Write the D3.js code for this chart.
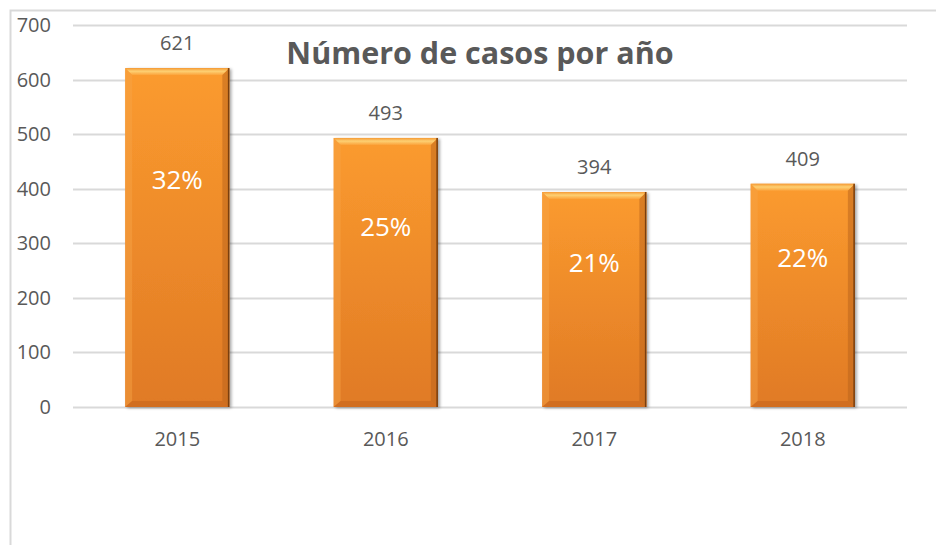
<!DOCTYPE html>
<html>
<head>
<meta charset="utf-8">
<script src="https://cdn.jsdelivr.net/npm/d3@7"></script>
<style>
  body { margin: 0; background: #fff; }
  svg { display: block; font-family: "Open Sans", "Liberation Sans", sans-serif; }
</style>
</head>
<body>
<svg id="chart" width="936" height="545"></svg>
<script>
// datos
const years = ['2015', '2016', '2017', '2018'];
const cases = [621, 493, 394, 409];
const percents = ['32%', '25%', '21%', '22%'];
const yTicks = [0, 100, 200, 300, 400, 500, 600, 700];
const title = 'Número de casos por año';

const svg = d3.select('#chart');
const textColor = '#595959';
const gridColor = '#d9d9d9';

// marco del gráfico
svg.append('path')
    .attr('d', 'M10.5,560 L10.5,10.5 L960,10.5')
    .attr('fill', 'none')
    .attr('stroke', gridColor)
    .attr('stroke-width', 2);

const x = d3.scaleBand().domain(years).range([73, 907]).paddingInner(0.5).paddingOuter(0.25);
const y = d3.scaleLinear().domain([0, 700]).range([407, 25]);

// gradientes
const defs = svg.append('defs');
const main = defs.append('linearGradient').attr('id', 'barFill')
    .attr('x1', 0).attr('y1', 0).attr('x2', 0).attr('y2', 1);
main.append('stop').attr('offset', '0%').attr('stop-color', '#fb9b2f');
main.append('stop').attr('offset', '100%').attr('stop-color', '#e07a25');

const topG = defs.append('linearGradient').attr('id', 'topFill')
    .attr('x1', 0).attr('y1', 0).attr('x2', 0).attr('y2', 1);
topG.append('stop').attr('offset', '0%').attr('stop-color', '#f59a35');
topG.append('stop').attr('offset', '45%').attr('stop-color', '#fdd073');
topG.append('stop').attr('offset', '100%').attr('stop-color', '#fba23a');

const shadow = defs.append('filter').attr('id', 'shadow')
    .attr('x', '-10%').attr('y', '-10%').attr('width', '130%').attr('height', '130%');
shadow.append('feDropShadow').attr('dx', 2).attr('dy', 1).attr('stdDeviation', 1.5)
    .attr('flood-color', '#000').attr('flood-opacity', 0.35);

// líneas de cuadrícula
svg.append('g')
    .selectAll('line')
    .data(yTicks)
    .join('line')
    .attr('x1', 73).attr('x2', 907)
    .attr('y1', d => Math.round(y(d)) + 0.5)
    .attr('y2', d => Math.round(y(d)) + 0.5)
    .attr('stroke', gridColor)
    .attr('stroke-width', 2);

// etiquetas eje Y
svg.append('g')
    .selectAll('text')
    .data(yTicks)
    .join('text')
    .attr('x', 51)
    .attr('y', d => y(d))
    .attr('dy', '0.35em')
    .attr('text-anchor', 'end')
    .attr('font-size', 20)
    .attr('fill', textColor)
    .text(d => d);

// etiquetas eje X
svg.append('g')
    .selectAll('text')
    .data(years)
    .join('text')
    .attr('x', d => x(d) + x.bandwidth() / 2)
    .attr('y', 446)
    .attr('text-anchor', 'middle')
    .attr('font-size', 20)
    .attr('fill', textColor)
    .text(d => d);

// barras con bisel
const bw = x.bandwidth();
const bars = svg.append('g')
    .selectAll('g')
    .data(years.map((yr, i) => ({ yr, v: cases[i], p: percents[i] })))
    .join('g')
    .attr('transform', d => `translate(${x(d.yr)},${y(d.v)})`);

bars.append('rect')
    .attr('width', bw)
    .attr('height', d => y(0) - y(d.v))
    .attr('fill', 'url(#barFill)')
    .attr('filter', 'url(#shadow)');

// bisel superior
bars.append('path')
    .attr('d', `M0,0 L${bw},0 L${bw - 7},7 L7,7 Z`)
    .attr('fill', 'url(#topFill)');
// bisel izquierdo
bars.append('path')
    .attr('d', d => `M0,0 L7,7 L7,${y(0) - y(d.v) - 6} L0,${y(0) - y(d.v)} Z`)
    .attr('fill', '#f7a347').attr('opacity', 0.45);
// bisel derecho
bars.append('path')
    .attr('d', d => `M${bw},0 L${bw - 7},7 L${bw - 7},${y(0) - y(d.v) - 6} L${bw},${y(0) - y(d.v)} Z`)
    .attr('fill', '#b8621a').attr('opacity', 0.5);
// bisel inferior
bars.append('path')
    .attr('d', d => {
        const h = y(0) - y(d.v);
        return `M0,${h} L7,${h - 6} L${bw - 7},${h - 6} L${bw},${h} Z`;
    })
    .attr('fill', '#c7661c').attr('opacity', 0.6);
bars.append('rect')
    .attr('x', bw - 1.5)
    .attr('width', 1.5)
    .attr('height', d => y(0) - y(d.v))
    .attr('fill', '#7a3f0e');

// valores sobre las barras
bars.append('text')
    .attr('x', bw / 2)
    .attr('y', -18)
    .attr('text-anchor', 'middle')
    .attr('font-size', 20)
    .attr('fill', textColor)
    .text(d => d.v);

// porcentajes dentro de las barras
bars.append('text')
    .attr('x', bw / 2)
    .attr('y', d => y(d.v * 0.67) - y(d.v))
    .attr('dy', '0.35em')
    .attr('text-anchor', 'middle')
    .attr('font-size', 26)
    .attr('fill', '#fff')
    .text(d => d.p);

// título
svg.append('text')
    .attr('x', 480)
    .attr('y', 64)
    .attr('text-anchor', 'middle')
    .attr('font-size', 30.5)
    .attr('font-weight', 'bold')
    .attr('fill', textColor)
    .text(title);
</script>
</body>
</html>
